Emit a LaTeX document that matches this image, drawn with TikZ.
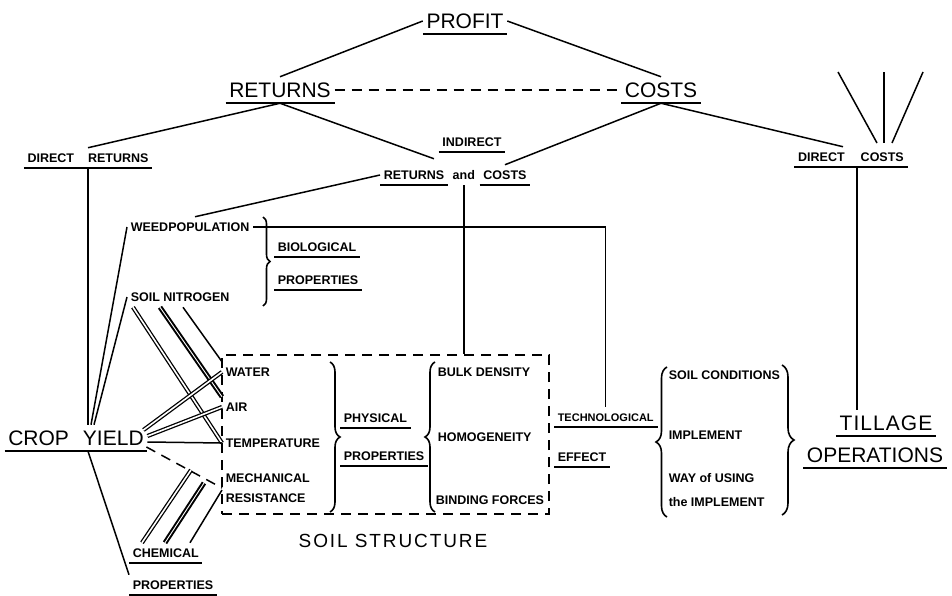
\documentclass[tikz,border=0pt]{standalone}
\usepackage{fontspec}
\setmainfont{Liberation Sans}
\usetikzlibrary{positioning,calc,decorations.pathreplacing}

\begin{document}
\begin{tikzpicture}[x=1pt,y=-1pt,line width=1.5pt,
    lbl/.style={font=\bfseries\fontsize{12.5}{14}\selectfont,inner xsep=3pt,inner ysep=5pt,text height=9pt,text depth=0pt},
    big/.style={font=\fontsize{21}{25}\selectfont,inner xsep=3pt,inner ysep=5pt,text height=15pt,text depth=0pt},
    uline/.style={line width=1.7pt},
    dashline/.style={dash pattern=on 10pt off 7pt},
    dbl/.style={double,double distance=1.6pt,line width=1.3pt},
    dblk/.style={double,double distance=0.9pt,line width=2pt},
    brc/.style={decorate,decoration={brace,amplitude=#1},line width=1.6pt}]
\useasboundingbox (0,0) rectangle (952,596);

% top of the tree
\node [big] (profit) at (465,21) {PROFIT};
\node [big] (returns) at (280,90) {RETURNS};
\node [big] (costs) at (661,90) {COSTS};
\node [lbl] (dirret) at (88,158) {DIRECT\hspace{14pt}RETURNS};
\node [lbl] (indirect) at (472,142) {INDIRECT};
\node [lbl] (rcr) at (414,175) {RETURNS};
\node [lbl,right=1pt of rcr] (rcand) {and};
\node [lbl,right=1pt of rcand] (rcc) {COSTS};
\node [lbl] (dircost) at (851,157) {DIRECT\hspace{16pt}COSTS};

\draw (profit.west) -- (returns.north);
\draw (profit.east) -- (costs.north);
\draw [dashline] (returns.east) -- (costs.west);
\draw (returns.south) -- (dirret.north);
\draw (returns.south) -- ($(rcr.north east)+(-14,-6)$);
\draw (costs.south) -- (rcc.north);
\draw (costs.south) -- ($(dircost.north)+(-8,0)$);

% tillage
\node [big,font=\fontsize{21}{25}\selectfont\addfontfeature{LetterSpace=5}] (till) at (886,423) {TILLAGE};
\node [big] (oper) at (875,455) {OPERATIONS};
\foreach \a/\b in {877/838,884/884,892/923}
{
    \draw (\a,143) -- (\b,72);
}
\draw ($(dircost.south)+(6,0)$) coordinate (dc) -- (dc |- till.north);

% crop yield and biological side
\node [big] (crop) at (76,438) {CROP\hspace{14pt}YIELD};
\draw (dirret.south) -- (dirret.south |- crop.north);
\node [lbl,anchor=west] (weed) at (127,227) {WEEDPOPULATION};
\node [lbl,anchor=west] (bio) at (274,247) {BIOLOGICAL};
\node [lbl,anchor=west] (bioprop) at (274,280) {PROPERTIES};
\node [lbl,anchor=west] (sn) at (127,297) {SOIL NITROGEN};
\draw [brc=7pt] (263,217) -- (263,306);
\draw (rcr.west) -- ($(weed.north)+(5,0)$);
\draw (weed.west) -- ($(crop.north)+(15,0)$);
\draw (sn.west) -- ($(crop.north)+(18,0)$);

% soil structure
\node [draw,dashline,minimum width=327pt,minimum height=159pt,inner sep=0pt] (soilbox) at (385.5,434.5) {};
% \draw [dashline] (222,355) rectangle (549,514);
\node [big,font=\fontsize{19}{22}\selectfont\addfontfeature{LetterSpace=10}] (soilstr) at (393,540) {SOIL STRUCTURE};
\node [lbl,anchor=west] (water) at (222,372) {WATER};
\node [lbl,anchor=west] (air) at (222,407) {AIR};
\node [lbl,anchor=west] (temp) at (222,443) {TEMPERATURE};
\node [lbl,anchor=west] (mech) at (222,478) {MECHANICAL};
\node [lbl,anchor=west] (resist) at (222,498) {RESISTANCE};
\draw [brc=10pt] (330,362) -- (330,512);
\node [lbl,anchor=west] (phys) at (340,418) {PHYSICAL};
\node [lbl,anchor=west] (physprop) at (340,456) {PROPERTIES};
\draw [brc=10pt] (435,512) -- (435,362);
\coordinate (b3) at (428,468);
\draw [uline] (physprop.south west) -- (physprop.south west -| b3);
\node [lbl,anchor=west] (bulk) at (434,372) {BULK DENSITY};
\node [lbl,anchor=west] (homog) at (434,437) {HOMOGENEITY};
\node [lbl,anchor=west] (binding) at (432,500) {BINDING FORCES};
\draw (rcand.south) -- (rcand.south |- soilbox.north);

% technological effect
\node [lbl,anchor=west,font=\bfseries\fontsize{11}{13}\selectfont] (techno) at (554,417) {TECHNOLOGICAL};
\node [lbl,anchor=west] (effect) at (554,457) {EFFECT};
\draw [brc=11pt] (667,517) -- (667,367);
\coordinate (b4) at (658,426);
\draw [uline] (techno.south west) -- (techno.south west -| b4);
\draw (weed.east) -| (techno.north);
\node [lbl,anchor=west] (soilcond) at (665,375) {SOIL CONDITIONS};
\node [lbl,anchor=west] (impl) at (665,435) {IMPLEMENT};
\node [lbl,anchor=west] (way) at (665,478) {WAY of USING};
\node [lbl,anchor=west] (theimpl) at (665,502) {the IMPLEMENT};
\draw [brc=12pt] (782,365) -- (782,515);

% links into the soil box
\draw [dbl] ($(sn.south west)+(6,0)$) -- (temp.west);
\draw [dblk] ($(sn.south west)+(33,0)$) -- (air.north west);
\draw ($(sn.south west)+(56,0)$) -- (water.north west);
\draw [dbl] ($(crop.east)+(-4,-8)$) -- (water.west);
\draw [dbl] ($(crop.east)+(0,-2)$) -- (air.west);
\draw ($(crop.east)+(0,4)$) -- (temp.west);
\draw [dashline] ($(crop.east)+(-1,9)$) -- ($(mech.west)!0.5!(resist.west)$);

% chemical properties
\node [lbl,anchor=west] (chem) at (129,553) {CHEMICAL};
\node [lbl,anchor=west] (chemprop) at (129,585) {PROPERTIES};
\coordinate (m1) at (191,470);
\coordinate (m2) at (204,483);
\draw [dbl] ($(chem.north west)+(13,0)$) -- (m1);
\draw [dblk] ($(chem.north west)+(36,0)$) -- (m2);
\draw ($(chem.north west)+(61,0)$) -- ($(mech.west)!0.6!(resist.west)$);
\draw ($(crop.south)+(12,0)$) -- (chemprop.north west);

\foreach \n in {profit,returns,costs,dirret,indirect,rcr,rcc,dircost,till,oper,crop,bio,bioprop,phys,chem,chemprop,effect}
{
    \draw [uline] (\n.south west) -- (\n.south east);
}
\end{tikzpicture}
\end{document}
